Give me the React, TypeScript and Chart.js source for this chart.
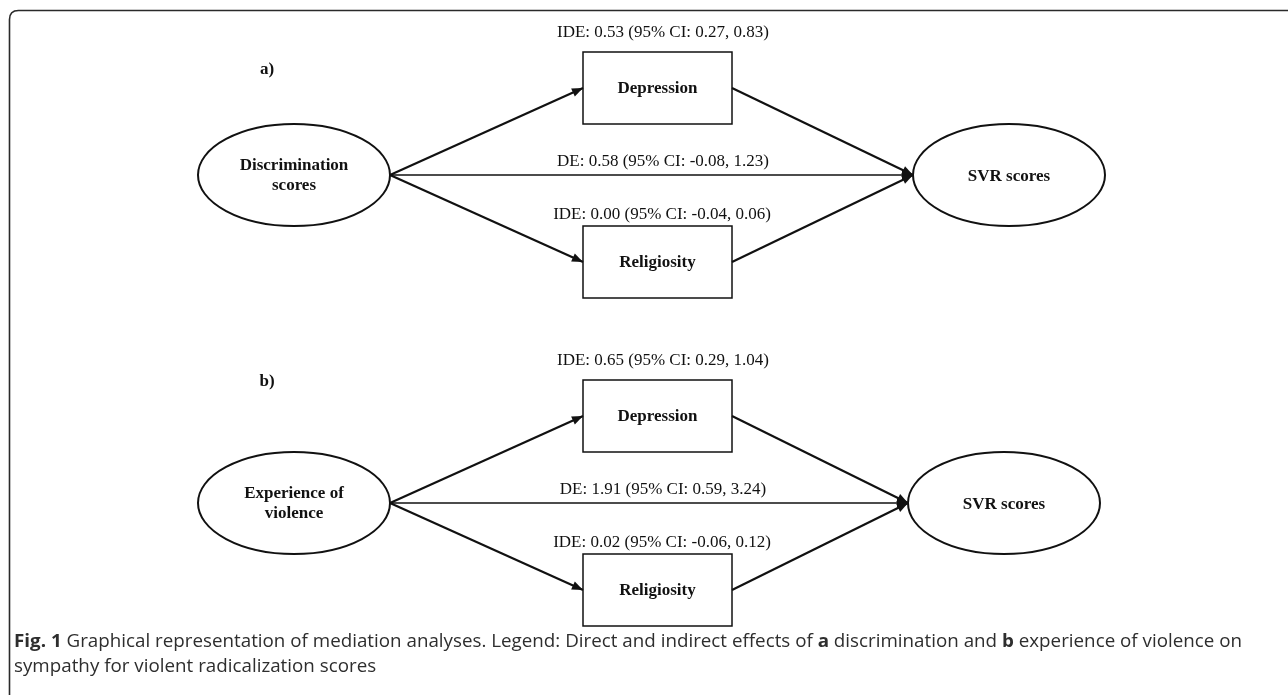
import { useEffect, useRef } from "react";
import { Chart, registerables } from "chart.js";

Chart.register(...registerables);

// ---------- data ----------
const panelLabels = ["a)", "b)"];
const exposureLabels = [
  ["Discrimination", "scores"],
  ["Experience of", "violence"],
];
const mediatorLabels = ["Depression", "Religiosity"];
const outcomeLabel = "SVR scores";

const ideDepEst = [0.53, 0.65];
const ideDepLo = [0.27, 0.29];
const ideDepHi = [0.83, 1.04];

const deEst = [0.58, 1.91];
const deLo = [-0.08, 0.59];
const deHi = [1.23, 3.24];

const ideRelEst = [0.0, 0.02];
const ideRelLo = [-0.04, -0.06];
const ideRelHi = [0.06, 0.12];

const captionLine1: [string, boolean][] = [
  ["Fig. 1", true],
  [" Graphical representation of mediation analyses. Legend: Direct and indirect effects of ", false],
  ["a", true],
  [" discrimination and ", false],
  ["b", true],
  [" experience of violence on", false],
];
const captionLine2: [string, boolean][] = [["sympathy for violent radicalization scores", false]];

// ---------- layout (pixels in data units) ----------
const W = 1288;
const H = 695;
const directY = [175, 503];
const panelLabelY = [70, 382];
const exposureX = 294;
const outcomeX = [1009, 1004];
const ellRx = 96;
const ellRy = 51;
const boxL = 583;
const boxR = 732;
const boxHalfH = 36;
const medOffset = 87;
const textX = 663;

const fmt = (v: number) => v.toFixed(2);
const effText = (kind: string, e: number, lo: number, hi: number) =>
  `${kind}: ${fmt(e)} (95% CI: ${fmt(lo)}, ${fmt(hi)})`;

const SERIF = '"Liberation Serif", "Times New Roman", serif';

function buildDatasets() {
  const ds: any[] = [];
  for (let p = 0; p < 2; p++) {
    const cy = directY[p];
    const sx = exposureX + ellRx;
    const tx = outcomeX[p] - ellRx;
    const tops = [cy - medOffset, cy + medOffset];
    ds.push({
      data: [{ x: sx, y: cy }, { x: tx, y: cy }],
      borderWidth: 1.3,
      arrow: true,
    });
    for (const my of tops) {
      ds.push({ data: [{ x: sx, y: cy }, { x: boxL, y: my }], borderWidth: 2.2, arrow: true });
      ds.push({ data: [{ x: boxR, y: my }, { x: tx, y: cy }], borderWidth: 2.2, arrow: true });
    }
  }
  return ds.map((d) => ({
    ...d,
    showLine: true,
    borderColor: "#111",
    pointRadius: 0,
    pointHoverRadius: 0,
    fill: false,
  }));
}

const diagramPlugin = {
  id: "diagram",
  beforeDatasetsDraw(chart: any) {
    const ctx = chart.ctx;
    ctx.save();
    ctx.strokeStyle = "#2a2a2a";
    ctx.lineWidth = 1.6;
    const x0 = 9.5, y0 = 10.5, r = 9;
    ctx.beginPath();
    ctx.moveTo(x0, H + 20);
    ctx.lineTo(x0, y0 + r);
    ctx.quadraticCurveTo(x0, y0, x0 + r, y0);
    ctx.lineTo(W + 20, y0);
    ctx.stroke();
    ctx.restore();
  },
  afterDatasetsDraw(chart: any) {
    const ctx = chart.ctx;
    const xs = chart.scales.x;
    const ys = chart.scales.y;
    const px = (v: number) => xs.getPixelForValue(v);
    const py = (v: number) => ys.getPixelForValue(v);

    chart.data.datasets.forEach((d: any) => {
      if (!d.arrow) return;
      const a = d.data[0], b = d.data[1];
      const x1 = px(a.x), y1 = py(a.y), x2 = px(b.x), y2 = py(b.y);
      const ang = Math.atan2(y2 - y1, x2 - x1);
      const len = 11, hw = 4.5;
      ctx.save();
      ctx.fillStyle = "#111";
      ctx.translate(x2, y2);
      ctx.rotate(ang);
      ctx.beginPath();
      ctx.moveTo(0, 0);
      ctx.lineTo(-len, -hw);
      ctx.lineTo(-len, hw);
      ctx.closePath();
      ctx.fill();
      ctx.restore();
    });

    ctx.save();
    ctx.textAlign = "center";
    ctx.textBaseline = "middle";
    ctx.fillStyle = "#111";
    for (let p = 0; p < 2; p++) {
      const cy = directY[p];
      ctx.strokeStyle = "#111";
      ctx.lineWidth = 2;
      for (const cx of [exposureX, outcomeX[p]]) {
        ctx.beginPath();
        ctx.ellipse(px(cx), py(cy), ellRx, ellRy, 0, 0, Math.PI * 2);
        ctx.stroke();
      }
      ctx.lineWidth = 1.5;
      const meds = [cy - medOffset, cy + medOffset];
      meds.forEach((my) => {
        ctx.strokeRect(px(boxL), py(my - boxHalfH), boxR - boxL, boxHalfH * 2);
      });
      ctx.font = `bold 17px ${SERIF}`;
      ctx.fillText(panelLabels[p], 267, py(panelLabelY[p]));
      ctx.fillText(exposureLabels[p][0], px(exposureX), py(cy - 9));
      ctx.fillText(exposureLabels[p][1], px(exposureX), py(cy + 11));
      ctx.fillText(outcomeLabel, px(outcomeX[p]), py(cy + 2));
      meds.forEach((my, i) => ctx.fillText(mediatorLabels[i], px((boxL + boxR) / 2), py(my + 1)));
      ctx.font = `17px ${SERIF}`;
      ctx.fillText(effText("IDE", ideDepEst[p], ideDepLo[p], ideDepHi[p]), px(textX), py(cy - 142));
      ctx.fillText(effText("DE", deEst[p], deLo[p], deHi[p]), px(textX), py(cy - 13));
      ctx.fillText(effText("IDE", ideRelEst[p], ideRelLo[p], ideRelHi[p]), px(textX - 1), py(cy + 39.5));
    }
    ctx.restore();

    // caption
    const fontFor = (b: boolean) => `${b ? "bold " : ""}18px "Open Sans", sans-serif`;
    const widthOf = (segs: [string, boolean][]) => {
      let total = 0;
      segs.forEach(([t, b]) => {
        ctx.font = fontFor(b);
        total += ctx.measureText(t).width;
      });
      return total;
    };
    const s = 1228 / widthOf(captionLine1);
    const drawLine = (segs: [string, boolean][], y: number) => {
      ctx.save();
      ctx.textBaseline = "middle";
      ctx.textAlign = "left";
      ctx.fillStyle = "#2e2e2e";
      ctx.translate(14, y);
      ctx.scale(s, 1);
      let x = 0;
      segs.forEach(([t, b]) => {
        ctx.font = fontFor(b);
        ctx.fillText(t, x, 0);
        x += ctx.measureText(t).width;
      });
      ctx.restore();
    };
    drawLine(captionLine1, 642);
    drawLine(captionLine2, 667);
  },
};

export default function App() {
  const ref = useRef<HTMLCanvasElement | null>(null);
  useEffect(() => {
    if (!ref.current) return;
    const chart = new Chart(ref.current, {
      type: "scatter",
      data: { datasets: buildDatasets() },
      options: {
        animation: false,
        responsive: false,
        layout: { padding: 0 },
        events: [],
        scales: {
          x: { type: "linear", min: 0, max: W, display: false },
          y: { type: "linear", min: 0, max: H, reverse: true, display: false },
        },
        plugins: {
          legend: { display: false },
          tooltip: { enabled: false },
        },
      } as any,
      plugins: [diagramPlugin],
    });
    return () => chart.destroy();
  }, []);
  return (
    <div style={{ position: "fixed", left: 0, top: 0, width: W, height: H, background: "#fff" }}>
      <canvas ref={ref} width={W} height={H} style={{ width: W, height: H, display: "block" }} />
    </div>
  );
}
